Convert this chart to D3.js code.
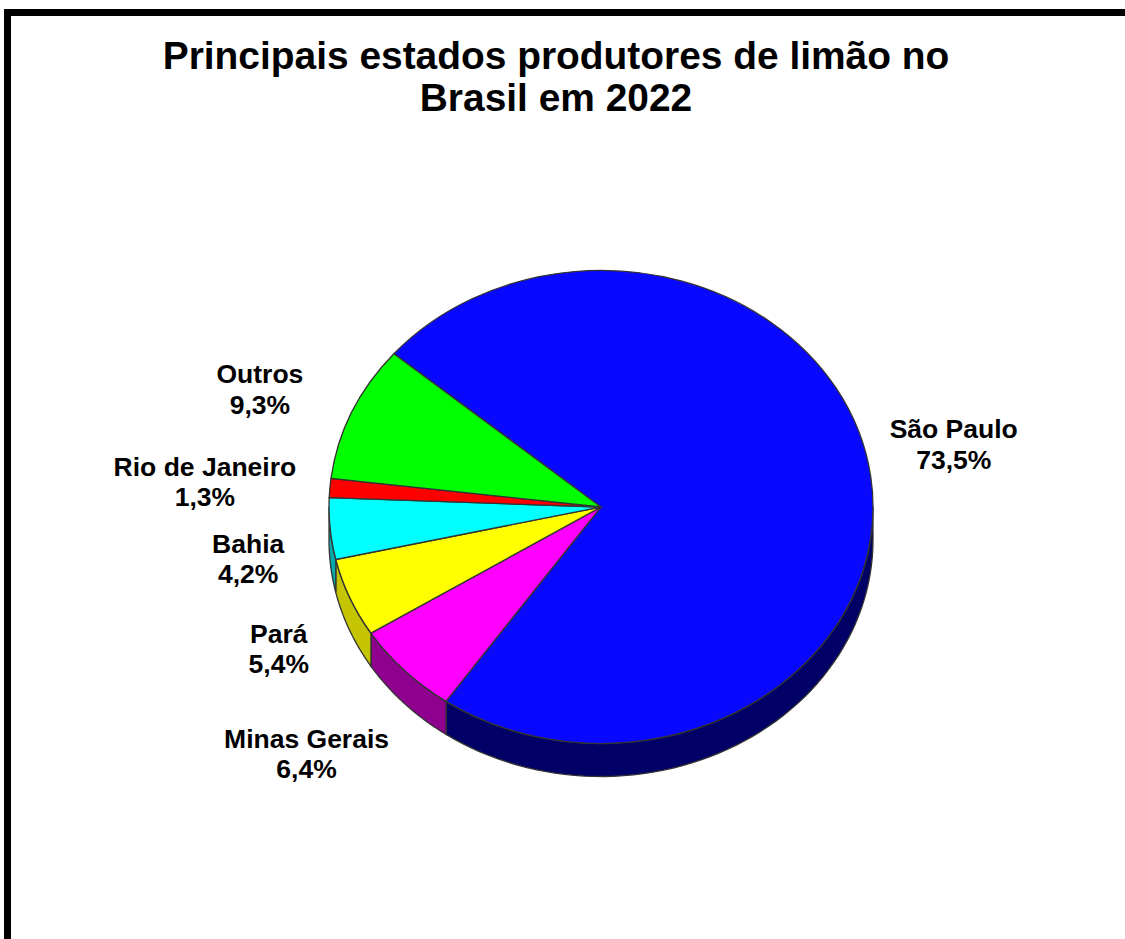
<!DOCTYPE html>
<html>
<head>
<meta charset="utf-8">
<script src="https://cdn.jsdelivr.net/npm/d3@7"></script>
<style>
  html, body { margin: 0; padding: 0; background: #fff; overflow: hidden; }
  text { font-family: "Liberation Sans", Arial, sans-serif; font-weight: bold; fill: #000; }
</style>
</head>
<body>
<div id="chart"></div>
<script>
// Data
const states = ["São Paulo", "Minas Gerais", "Pará", "Bahia", "Rio de Janeiro", "Outros"];
const shares = [73.5, 6.4, 5.4, 4.2, 1.3, 9.3];
const shareLabels = ["73,5%", "6,4%", "5,4%", "4,2%", "1,3%", "9,3%"];
const topColors = ["#0808ff", "#ff00ff", "#ffff00", "#00ffff", "#ff0000", "#00ff00"];
const sideColors = ["#000066", "#8f008f", "#c4c400", "#00aaaa", "#aa0000", "#00aa00"];
const titleLines = ["Principais estados produtores de limão no", "Brasil em 2022"];

// Layout
const width = 1125;
const height = 939;
const cx = 601, cy = 507;
const rx = 272, ry = 236.5;
const depth = 33;
const startDeg = 310.4;
const labelNudge = [[83, -33], [-98, 82], [-71, 50], [-82, 29], [-125, -7], [-92, -24]];

const svg = d3.select("#chart")
    .append("svg")
    .attr("width", width)
    .attr("height", height);

svg.append("rect").attr("width", width).attr("height", height).attr("fill", "#fff");

// Outer frame, it runs off the right and bottom of the page
svg.append("rect")
    .attr("x", 7.5)
    .attr("y", 12.5)
    .attr("width", width + 20)
    .attr("height", height + 20)
    .attr("fill", "none")
    .attr("stroke", "#000")
    .attr("stroke-width", 7);

// Title
svg.selectAll("text.title")
    .data(titleLines)
    .enter().append("text")
    .attr("class", "title")
    .attr("x", 556)
    .attr("y", (d, i) => 69 + i * 42)
    .attr("text-anchor", "middle")
    .attr("font-size", "38.9px")
    .text(d => d);

const rows = states.map((name, i) => ({ name, share: shares[i], label: shareLabels[i], top: topColors[i], side: sideColors[i] }));

const start = startDeg * Math.PI / 180;
const pie = d3.pie()
    .sort(null)
    .value(d => d.share)
    .startAngle(start)
    .endAngle(start + 2 * Math.PI);
const slices = pie(rows);

// Point on the squashed circle, angle clockwise from the top
const px = a => cx + rx * Math.sin(a);
const py = a => cy - ry * Math.cos(a);

// Side wall: only the part of each slice on the front half of the pie
function sidePath(d) {
    const a0 = Math.PI / 2, a1 = 3 * Math.PI / 2;
    let lo = d.startAngle, hi = d.endAngle;
    // bring the slice to the range where it overlaps the front half
    while (hi > a1 + 2 * Math.PI) { lo -= 2 * Math.PI; hi -= 2 * Math.PI; }
    if (hi > 2 * Math.PI + a0) { lo -= 2 * Math.PI; hi -= 2 * Math.PI; }
    lo = Math.max(lo, a0);
    hi = Math.min(hi, a1);
    if (hi <= lo) return null;
    const angles = d3.range(0, 61).map(k => lo + (hi - lo) * k / 60);
    const p = d3.path();
    angles.forEach((a, k) => k ? p.lineTo(px(a), py(a)) : p.moveTo(px(a), py(a)));
    angles.slice().reverse().forEach(a => p.lineTo(px(a), py(a) + depth));
    p.closePath();
    return p.toString();
}

svg.append("g").selectAll("path")
    .data(slices)
    .enter().append("path")
    .attr("d", sidePath)
    .attr("fill", d => d.data.side)
    .attr("stroke", "#333")
    .attr("stroke-width", 1.3);

// Top face: a normal arc squashed with a transform
const arc = d3.arc().innerRadius(0).outerRadius(rx);

svg.append("g")
    .attr("transform", `translate(${cx},${cy}) scale(1,${ry / rx})`)
    .selectAll("path")
    .data(slices)
    .enter().append("path")
    .attr("d", arc)
    .attr("fill", d => d.data.top)
    .attr("stroke", "#333")
    .attr("stroke-width", 1.3)
    .attr("vector-effect", "non-scaling-stroke");

// Labels, two lines each
const labels = svg.append("g").selectAll("text")
    .data(slices)
    .enter().append("text")
    .attr("text-anchor", "middle")
    .attr("font-size", "26.5px")
    .attr("transform", (d, i) => {
        const mid = (d.startAngle + d.endAngle) / 2;
        return `translate(${px(mid) + labelNudge[i][0]},${py(mid) + labelNudge[i][1]})`;
    });

labels.append("tspan").attr("x", 0).attr("y", -5).text(d => d.data.name);
labels.append("tspan").attr("x", 0).attr("y", 25.5).text(d => d.data.label);
</script>
</body>
</html>
